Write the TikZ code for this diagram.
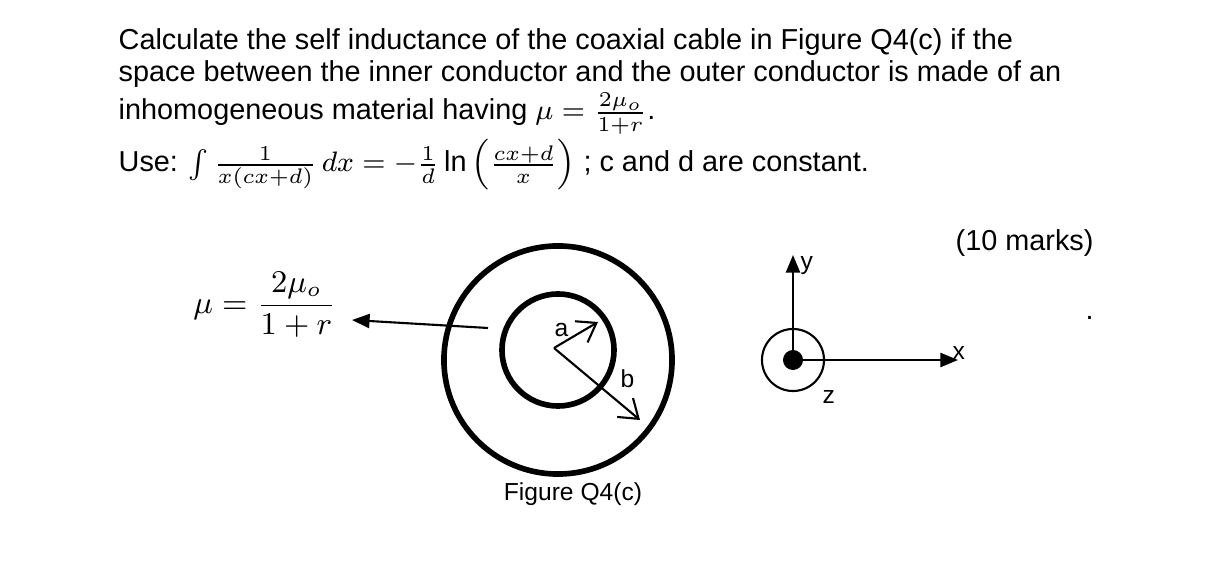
\documentclass[tikz,border=0pt]{standalone}
\usepackage{fontspec}
\usepackage{amsmath}
\setmainfont{Liberation Sans}
\usetikzlibrary{arrows.meta}
\begin{document}
\begin{tikzpicture}[x=0.01cm,y=-0.01cm,
  txt/.style={anchor=base west,inner sep=0,font=\fontsize{8.2pt}{10pt}\selectfont},
  small/.style={anchor=base west,inner sep=0,font=\fontsize{7pt}{9pt}\selectfont},
  thick circ/.style={line width=1.6pt},
  open/.style={-{Straight Barb[length=5pt,width=7pt]},line width=0.6pt},
  filled/.style={-{Triangle[length=5pt,width=4pt]},line width=0.6pt}]
\useasboundingbox (0,0) rectangle (1217,564);
\node[txt] (l1) at (118,50) {Calculate the self inductance of the coaxial cable in Figure Q4(c) if the};
\node[txt] (l2) at (118,82) {space between the inner conductor and the outer conductor is made of an};
\node[txt] (l3) at (118,120) {inhomogeneous material having $\mu=\frac{2\mu_o}{1+r}$.};
\node[txt] (l4) at (118,172) {Use: $\int\frac{1}{x(cx+d)}\,dx=-\frac{1}{d}\ln\left(\frac{cx+d}{x}\right)$ ; c and d are constant.};
\node[txt] (marks) at (955,251) {(10 marks)};
\node[txt] (dot) at (1085,320) {.};
\node[small,anchor=base] (fig) at (573,501) {Figure Q4(c)};
\node[anchor=center,inner sep=0,font=\fontsize{9pt}{11pt}\selectfont] (mu) at (265,305) {$\mu=\dfrac{2\mu_o}{1+r}$};
\coordinate (ms) at (488,328);
\coordinate (me) at (352,320);
\draw[filled] (ms) -- (me);
\node[draw,thick circ,circle,minimum size=2.28cm,inner sep=0] (outer) at (558,360) {};
\node[draw,thick circ,circle,minimum size=1.12cm,inner sep=0] (inner) at (558,350) {};
\coordinate (o) at (554,348);
\coordinate (ae) at (598,322);
\coordinate (be) at (640,420);
\draw[open] (o) -- (ae);
\draw[open] (o) -- (be);
\node[small] (la) at (554,337) {a};
\node[small] (lb) at (620,388) {b};
\node[draw,circle,minimum size=0.62cm,inner sep=0,line width=0.6pt] (wire) at (793,360) {};
\node[fill,circle,minimum size=0.2cm,inner sep=0] (core) at (793,360) {};
\coordinate (ye) at (793,255);
\coordinate (xe) at (958,360);
\draw[filled] (core.center) -- (ye);
\draw[filled] (core.center) -- (xe);
\node[small] (ly) at (800,270) {y};
\node[small] (lx) at (952,360) {x};
\node[small] (lz) at (822,404) {z};
\end{tikzpicture}
\end{document}
